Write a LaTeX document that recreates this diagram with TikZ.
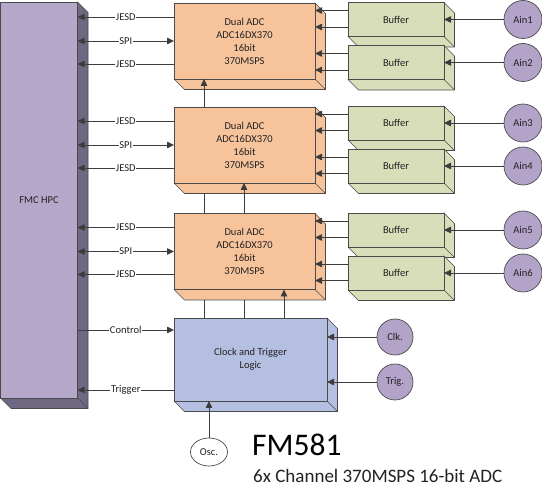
\documentclass[tikz,border=0pt]{standalone}
\usepackage{fontspec}
\setmainfont{Carlito}
\usetikzlibrary{arrows.meta,calc,backgrounds,shapes.geometric}
\definecolor{adcc}{HTML}{F7C39B}
\definecolor{bufc}{HTML}{D7DEB9}
\definecolor{clkc}{HTML}{B5BFE1}
\definecolor{fmcc}{HTML}{B4A7CA}
\definecolor{fmcside}{HTML}{6E6882}
\definecolor{circc}{HTML}{B3A3C9}
\definecolor{edgec}{HTML}{4A4A4A}
\definecolor{linec}{HTML}{3C3C3C}
\definecolor{txtc}{HTML}{222222}
\newcommand\lblfont{\fontsize{10.5}{13}\selectfont}
\newcommand\boxside[2]{%
  \begin{scope}[on background layer]
    \filldraw[fill=#2, draw=edgec, line width=0.7pt, line join=round]
      (#1.north east) -- ++(10.5,10.5) -- ($(#1.south east)+(10.5,10.5)$)
      -- ($(#1.south west)+(10.5,10.5)$) -- (#1.south west) -- cycle;
    \draw[edgec, line width=0.7pt] (#1.south east) -- ++(10.5,10.5);
  \end{scope}}
\tikzset{
  ln/.style={draw=linec, line width=0.8pt},
  arr/.style={ln, -{Triangle[length=7pt,width=6.5pt]}},
  darr/.style={ln, {Triangle[length=7pt,width=6.5pt]}-{Triangle[length=7pt,width=6.5pt]}},
  box/.style={draw=edgec, line width=0.7pt, inner sep=0pt, outer sep=0pt,
    align=center, font=\lblfont, text=txtc},
  adcbox/.style={box, fill=adcc, minimum width=141pt, minimum height=76pt},
  bufbox/.style={box, fill=bufc, minimum width=96pt, minimum height=34pt},
  inport/.style={circle, draw=edgec, line width=0.7pt, fill=circc, inner sep=0pt,
    minimum size=38pt, font=\lblfont, text=txtc},
  lab/.style={fill=white, inner sep=0.6pt, font=\lblfont, text=txtc},
}
\begin{document}
\begin{tikzpicture}[x=1pt,y=-1pt]
\useasboundingbox (0,0) rectangle (542,489);
% FMC
\node[box, fill=fmcc, minimum width=77pt, minimum height=396pt] (fmc) at (39,200) {FMC HPC};
\boxside{fmc}{fmcside}
% ADCs
\node[adcbox] (adc1) at (244.5,41) {Dual ADC\\ADC16DX370\\16bit\\370MSPS};
\node[adcbox] (adc2) at (244.5,145) {Dual ADC\\ADC16DX370\\16bit\\370MSPS};
\node[adcbox] (adc3) at (244.5,251.5) {Dual ADC\\ADC16DX370\\16bit\\370MSPS};
\boxside{adc1}{adcc}\boxside{adc2}{adcc}\boxside{adc3}{adcc}
% Buffers
\node[bufbox] (buf1) at (396,19.5) {Buffer};
\node[bufbox] (buf2) at (396,62.5) {Buffer};
\node[bufbox] (buf3) at (396,123) {Buffer};
\node[bufbox] (buf4) at (396,166) {Buffer};
\node[bufbox] (buf5) at (396,230) {Buffer};
\node[bufbox] (buf6) at (396,273) {Buffer};
\foreach \b in {buf1,buf2,buf3,buf4,buf5,buf6}{\boxside{\b}{bufc}}
% inputs
\node[inport] (ain1) at (523,19.5) {Ain1};
\node[inport] (ain2) at (523,62.5) {Ain2};
\node[inport] (ain3) at (523,123) {Ain3};
\node[inport] (ain4) at (523,166) {Ain4};
\node[inport] (ain5) at (523,230) {Ain5};
\node[inport] (ain6) at (523,273) {Ain6};
% clock box
\node[box, fill=clkc, minimum width=153pt, minimum height=83pt] (clkbox) at (250.5,359.5) {Clock and Trigger\\Logic};
\boxside{clkbox}{clkc}
\node[inport, minimum size=36pt] (clkin) at (395,337) {Clk.};
\node[inport, minimum size=36pt] (trgin) at (395,382) {Trig.};
\node[ellipse, draw=edgec, line width=0.7pt, fill=white, inner sep=0pt,
  minimum width=37pt, minimum height=28pt, font=\lblfont, text=txtc] (osc) at (209,452) {Osc.};
% title
\node[anchor=base west, inner sep=0pt, text=black] (title) at (252,456) {\fontsize{31.5}{36}\selectfont FM581};
\node[anchor=base west, inner sep=0pt, text=txtc] (subtitle) at (253,483) {\fontsize{19}{22}\selectfont 6x Channel 370MSPS 16-bit ADC};
% ADC <-> FMC
\foreach \a in {adc1,adc2,adc3}{
  \path ($(\a.west)+(0,-24)$) coordinate (\a ja) ($(\a.west)+(0,0)$) coordinate (\a sp) ($(\a.west)+(0,23)$) coordinate (\a jb);
  \draw[arr] (\a ja) -- (\a ja -| fmc.east) node[midway, lab] {JESD};
  \draw[darr] (\a sp -| fmc.east) -- (\a sp) node[midway, lab] {SPI};
  \draw[arr] (\a jb) -- (\a jb -| fmc.east) node[midway, lab] {JESD};
}
% Buffers -> ADC
\foreach \b/\a in {buf1/adc1,buf2/adc1,buf3/adc2,buf4/adc2,buf5/adc3,buf6/adc3}{
  \path ($(\b.west)+(0,-9)$) coordinate (\b u) ($(\b.west)+(0,7.5)$) coordinate (\b d);
  \draw[arr] (\b u) -- (\b u -| \a.east);
  \draw[arr] (\b d) -- (\b d -| \a.east);
}
% Ain -> buffers
\foreach \i in {1,...,6}{\draw[arr] (ain\i) -- (ain\i -| buf\i.east);}
% clock inputs
\draw[arr] (clkin) -- (clkin -| clkbox.east);
\draw[arr] (trgin) -- (trgin -| clkbox.east);
\draw[arr] (osc) -- (osc.north |- clkbox.south);
% control / trigger
\path ($(clkbox.west)+(0,-29.5)$) coordinate (ctl) ($(clkbox.west)+(0,30.5)$) coordinate (trg);
\draw[arr] (ctl -| fmc.east) -- (ctl) node[midway, lab] {Control};
\draw[arr] (trg) -- (trg -| fmc.east) node[midway, lab] {Trigger};
% vertical clock distribution
\coordinate (v1) at (204,0);
\coordinate (v2) at (244,0);
\coordinate (v3) at (284,0);
\draw[arr] (v1 |- adc2.north) -- (v1 |- adc1.south);
\draw[ln] (v1 |- adc3.north) -- ($(v1 |- adc2.south)+(0,10.5)$);
\draw[arr] (v2 |- adc3.north) -- (v2 |- adc2.south);
\draw[ln] (v1 |- clkbox.north) -- ($(v1 |- adc3.south)+(0,10.5)$);
\draw[ln] (v2 |- clkbox.north) -- ($(v2 |- adc3.south)+(0,10.5)$);
\draw[arr] (v3 |- clkbox.north) -- (v3 |- adc3.south);
\end{tikzpicture}
\end{document}
